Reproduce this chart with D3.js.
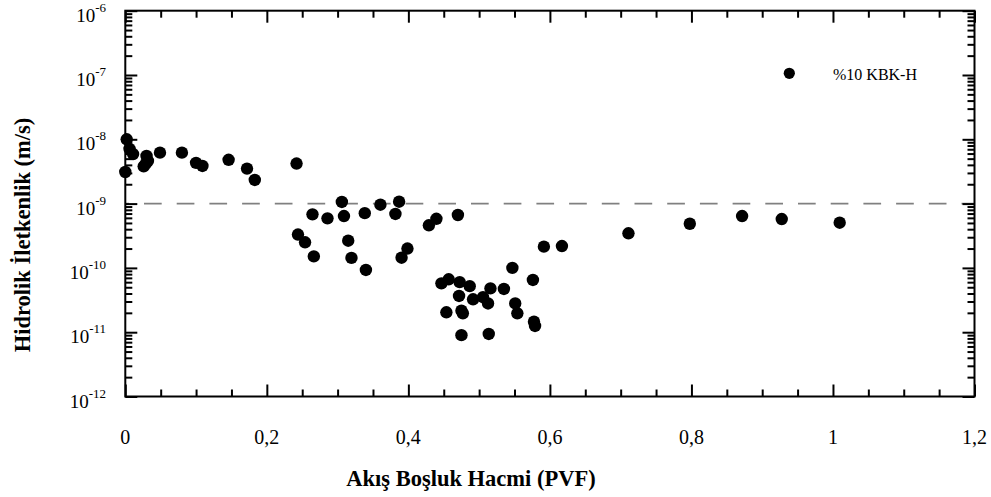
<!DOCTYPE html>
<html><head><meta charset="utf-8">
<script src="https://cdn.jsdelivr.net/npm/d3@7"></script>
<style>body{margin:0;background:#fff} svg{display:block;background:#fff}</style>
</head><body>
<svg id="c" width="991" height="497"></svg>
<script>
// ---- data ----
const pvf = [0.002,0.006,0.011,0.000,0.030,0.032,0.026,0.029,0.049,0.080,0.100,0.109,0.146,0.172,0.183,0.242,
  0.244,0.254,0.2664,0.2645,0.2857,0.306,0.309,0.315,0.3196,0.3384,0.340,0.3605,0.3817,0.3869,0.3904,0.3987,
  0.429,0.4396,0.470,0.5915,0.617,0.547,0.576,0.4467,0.457,0.4725,0.4867,0.4716,0.4914,0.5055,0.516,0.5126,
  0.535,0.551,0.554,0.4537,0.475,0.477,0.475,0.5136,0.5775,0.579,0.711,0.7977,0.8716,0.9276,1.0095];
const conductivity = [1.0e-8,7.1e-9,5.9e-9,3.1e-9,5.5e-9,4.6e-9,3.8e-9,4.2e-9,6.2e-9,6.2e-9,4.3e-9,3.85e-9,4.8e-9,3.5e-9,2.33e-9,4.2e-9,
  3.3e-10,2.5e-10,1.51e-10,6.8e-10,5.9e-10,1.06e-9,6.4e-10,2.65e-10,1.43e-10,7.1e-10,9.3e-11,9.6e-10,6.9e-10,1.07e-9,1.44e-10,2.0e-10,
  4.6e-10,5.8e-10,6.65e-10,2.14e-10,2.19e-10,1.0e-10,6.5e-11,5.75e-11,6.65e-11,6.0e-11,5.2e-11,3.66e-11,3.25e-11,3.5e-11,4.8e-11,2.8e-11,
  4.7e-11,2.8e-11,1.97e-11,2.04e-11,2.16e-11,1.97e-11,9.0e-12,9.4e-12,1.46e-11,1.25e-11,3.45e-10,4.86e-10,6.4e-10,5.75e-10,5.05e-10];
const xTickValues = [0,0.2,0.4,0.6,0.8,1,1.2];
const xTickLabels = ["0","0,2","0,4","0,6","0,8","1","1,2"];
const yTickExponents = [-12,-11,-10,-9,-8,-7,-6];
const seriesName = "%10 KBK-H";
const thresholdK = 1e-9;
const xTitle = "Akış Boşluk Hacmi (PVF)";
const yTitle = "Hidrolik İletkenlik (m/s)";

// ---- layout ----
const W = 991, H = 497;
const L = 125.3, R = 974.5, T = 10.7, B = 396.5;
const FONT = "'Liberation Serif','Times New Roman',serif";
const svg = d3.select("#c");
const x = d3.scaleLinear().domain([0, 1.2]).range([L, R]);
const y = d3.scaleLog().domain([1e-12, 1e-6]).range([B, T]);

// threshold dashed line
svg.append("line")
  .attr("x1", x(0)).attr("x2", x(1.2))
  .attr("y1", y(thresholdK)).attr("y2", y(thresholdK))
  .attr("stroke", "#808080").attr("stroke-width", 1.6)
  .attr("stroke-dasharray", "17.7 15").attr("stroke-dashoffset", 14);

// points
const data = pvf.map((v, i) => ({x: v, k: conductivity[i]}));
svg.append("g").selectAll("circle").data(data).join("circle")
  .attr("cx", d => x(d.x)).attr("cy", d => y(d.k)).attr("r", 6.2).attr("fill", "#000");

// ticks
const xMinor = d3.range(0, 24).map(i => i * 0.05).filter(v => Math.abs(v / 0.2 - Math.round(v / 0.2)) > 1e-6);
const yMajor = yTickExponents.map(e => Math.pow(10, e));
const yMinor = [];
yTickExponents.slice(0, -1).forEach(e => { for (let f = 2; f <= 9; f++) yMinor.push(f * Math.pow(10, e)); });

function addAxis(axisFn, scale, vals, size, transform) {
  const g = svg.append("g").attr("transform", transform)
    .call(axisFn(scale).tickValues(vals).tickSize(-size).tickFormat(""));
  g.select(".domain").remove();
  g.selectAll(".tick line").attr("stroke", "#000").attr("stroke-width", 2);
}
addAxis(d3.axisBottom, x, xTickValues, 12, `translate(0,${B})`);
addAxis(d3.axisBottom, x, xMinor, 7, `translate(0,${B})`);
addAxis(d3.axisTop, x, xTickValues, 12, `translate(0,${T})`);
addAxis(d3.axisTop, x, xMinor, 7, `translate(0,${T})`);
addAxis(d3.axisLeft, y, yMajor, 12, `translate(${L},0)`);
addAxis(d3.axisLeft, y, yMinor, 7, `translate(${L},0)`);
addAxis(d3.axisRight, y, yMajor, 12, `translate(${R},0)`);
addAxis(d3.axisRight, y, yMinor, 7, `translate(${R},0)`);

// frame
svg.append("rect").attr("x", L).attr("y", T).attr("width", R - L).attr("height", B - T)
  .attr("fill", "none").attr("stroke", "#000").attr("stroke-width", 2);

// x tick labels
svg.append("g").selectAll("text").data(xTickValues).join("text")
  .attr("x", d => x(d)).attr("y", 444).attr("text-anchor", "middle")
  .attr("font-family", FONT).attr("font-size", 20).attr("fill", "#000")
  .text((d, i) => xTickLabels[i]);

// y tick labels
const yl = svg.append("g").selectAll("text").data(yTickExponents).join("text")
  .attr("x", 106).attr("y", d => y(Math.pow(10, d)) + 11).attr("text-anchor", "end")
  .attr("font-family", FONT).attr("font-size", 19).attr("fill", "#000");
yl.append("tspan").text("10");
yl.append("tspan").attr("dy", -10).attr("font-size", 13).text(d => String(d));

// axis titles
svg.append("text").attr("x", 471).attr("y", 486).attr("text-anchor", "middle")
  .attr("font-family", FONT).attr("font-weight", "bold").attr("font-size", 22.5).text(xTitle);
svg.append("text").attr("transform", "translate(30,235) rotate(-90)").attr("text-anchor", "middle")
  .attr("font-family", FONT).attr("font-weight", "bold").attr("font-size", 22.5).text(yTitle);

// legend
svg.append("circle").attr("cx", 789.3).attr("cy", 73.3).attr("r", 5.6).attr("fill", "#000");
svg.append("text").attr("x", 833).attr("y", 80).attr("font-family", FONT).attr("font-size", 16).text(seriesName);
</script>
</body></html>
